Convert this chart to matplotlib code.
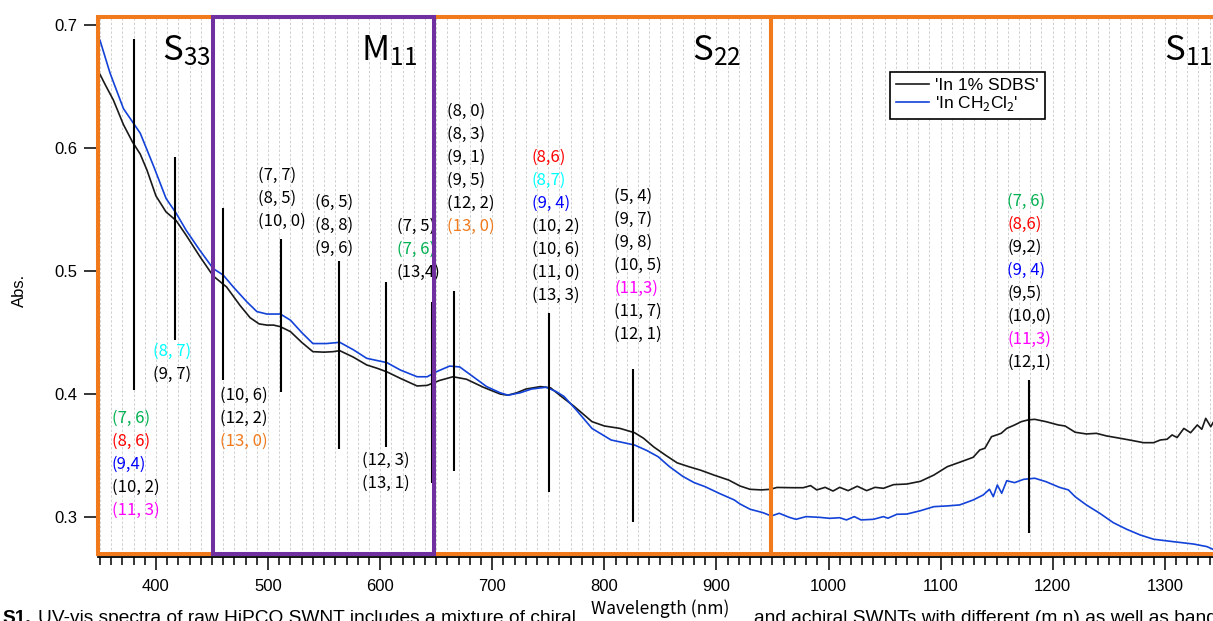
import matplotlib
matplotlib.use('Agg')
import matplotlib.pyplot as plt
from matplotlib.patches import Rectangle

# UV-vis absorbance of HiPCO SWNTs in two media
wl_sdbs = [348.3, 350, 355, 362, 371, 379, 386, 392, 400, 409, 418, 427, 439, 451, 463, 475,
           484, 492, 499, 505, 511, 520, 530, 540, 550, 558, 564, 576, 588, 597, 606, 618,
           633, 642, 653, 665, 677, 692, 707, 714, 722, 730, 743, 752, 763, 773, 789, 800,
           814, 827, 835, 844, 855, 865, 875, 886, 898, 911, 921, 930, 940, 948, 954, 968.5,
           977.5, 984, 989.5, 997, 1004, 1010, 1017.5, 1025.6, 1034, 1041.5, 1049, 1058, 1070,
           1082, 1094, 1106, 1118.5, 1129, 1135, 1139.5, 1145.4, 1150, 1154, 1159, 1166, 1172,
           1178, 1184, 1194, 1205, 1211, 1220, 1230, 1239, 1248, 1260, 1272, 1281, 1290, 1296,
           1302, 1306.5, 1311, 1317, 1323, 1329, 1333, 1336.5, 1341, 1343]
abs_sdbs = [0.661, 0.660, 0.651, 0.639, 0.619, 0.605, 0.595, 0.582, 0.561, 0.548, 0.541, 0.529,
            0.512, 0.496, 0.487, 0.472, 0.462, 0.457, 0.456, 0.456, 0.4547, 0.4507, 0.442,
            0.4344, 0.434, 0.4344, 0.4352, 0.430, 0.4236, 0.421, 0.418, 0.4127, 0.4065, 0.407,
            0.411, 0.414, 0.412, 0.4055, 0.400, 0.399, 0.401, 0.404, 0.406, 0.405, 0.397, 0.390,
            0.3775, 0.374, 0.372, 0.3685, 0.364, 0.357, 0.350, 0.344, 0.341, 0.338, 0.334, 0.330,
            0.3252, 0.3225, 0.322, 0.3225, 0.324, 0.3238, 0.3238, 0.3255, 0.322, 0.3241, 0.3211,
            0.3241, 0.3214, 0.325, 0.3214, 0.3241, 0.3233, 0.3263, 0.3268, 0.329, 0.3341, 0.3409,
            0.345, 0.3485, 0.3545, 0.3559, 0.3653, 0.3667, 0.368, 0.372, 0.3748, 0.3775, 0.3789,
            0.3794, 0.3775, 0.3748, 0.374, 0.3689, 0.3675, 0.368, 0.3659, 0.364, 0.362, 0.3604,
            0.3604, 0.3626, 0.3632, 0.3667, 0.3646, 0.372, 0.3685, 0.3748, 0.3713, 0.3802,
            0.3734, 0.3767]

wl_dcm = [348.3, 350, 359, 371, 380, 386, 398, 409, 418, 427, 439, 451, 460, 469, 481, 490,
          499, 511, 520, 530, 540, 552, 564, 576, 588, 606, 618, 633, 642, 650, 662, 671, 683,
          695, 707, 714, 725, 735, 748, 757, 764, 775, 789, 806, 827, 838, 848, 858, 870, 880,
          890, 903, 916, 921, 930, 941.5, 949, 956, 965, 971, 980, 992, 1001, 1010, 1016, 1023,
          1029, 1040, 1049, 1053, 1061, 1070, 1082, 1094, 1106, 1117, 1129, 1138, 1143.6, 1147,
          1150.6, 1154.5, 1159, 1166, 1174, 1184, 1194, 1206, 1214, 1220, 1230, 1242, 1254,
          1266, 1278, 1290, 1307.8, 1325.7, 1337.6, 1343]
abs_dcm = [0.689, 0.6878, 0.661, 0.632, 0.620, 0.612, 0.585, 0.559, 0.547, 0.533, 0.517,
           0.502, 0.4967, 0.487, 0.475, 0.467, 0.465, 0.465, 0.460, 0.450, 0.441, 0.441, 0.442,
           0.436, 0.429, 0.4255, 0.4195, 0.414, 0.414, 0.418, 0.4227, 0.422, 0.414, 0.406, 0.401,
           0.399, 0.401, 0.404, 0.4055, 0.402, 0.398, 0.387, 0.372, 0.3626, 0.3585, 0.354, 0.349,
           0.341, 0.333, 0.328, 0.3246, 0.319, 0.3138, 0.3106, 0.3063, 0.3035, 0.3008, 0.303,
           0.2997, 0.2981, 0.3003, 0.2997, 0.2989, 0.2994, 0.2976, 0.3003, 0.2976, 0.2981,
           0.3003, 0.2990, 0.3022, 0.3024, 0.3051, 0.3084, 0.309, 0.3098, 0.3138, 0.3179, 0.3225,
           0.3165, 0.326, 0.3193, 0.3295, 0.3279, 0.3306, 0.3315, 0.3287, 0.3241, 0.322, 0.3165,
           0.3098, 0.303, 0.2954, 0.29, 0.2854, 0.2819, 0.2799, 0.278, 0.2759, 0.2737]

# transition markers (nm) and their vertical extent
marker_nm = [380, 417, 460, 512, 563, 605, 646, 666, 751, 826, 1179]
marker_lo = [0.403, 0.444, 0.411, 0.402, 0.355, 0.357, 0.328, 0.337, 0.320, 0.296, 0.287]
marker_hi = [0.689, 0.593, 0.551, 0.526, 0.508, 0.491, 0.475, 0.484, 0.466, 0.420, 0.411]

# (n, m) assignments for each marker group
label_groups = [
    ['(7, 6)', '(8, 6)', '(9,4)', '(10, 2)', '(11, 3)'],
    ['(8, 7)', '(9, 7)'],
    ['(10, 6)', '(12, 2)', '(13, 0)'],
    ['(7, 7)', '(8, 5)', '(10, 0)'],
    ['(6, 5)', '(8, 8)', '(9, 6)'],
    ['(12, 3)', '(13, 1)'],
    ['(7, 5)', '(7, 6)', '(13,4)'],
    ['(8, 0)', '(8, 3)', '(9, 1)', '(9, 5)', '(12, 2)', '(13, 0)'],
    ['(8,6)', '(8,7)', '(9, 4)', '(10, 2)', '(10, 6)', '(11, 0)', '(13, 3)'],
    ['(5, 4)', '(9, 7)', '(9, 8)', '(10, 5)', '(11,3)', '(11, 7)', '(12, 1)'],
    ['(7, 6)', '(8,6)', '(9,2)', '(9, 4)', '(9,5)', '(10,0)', '(11,3)', '(12,1)'],
]

# transition bands
band_names = ['S$_{\\mathrm{33}}$', 'M$_{\\mathrm{11}}$', 'S$_{\\mathrm{22}}$', 'S$_{\\mathrm{11}}$']

# ---- layout ----
group_xy = [(360.7, 0.3805), (397.0, 0.4344), (457.0, 0.3992), (491.3, 0.578),
            (542.2, 0.5556), (583.5, 0.3458), (614.7, 0.536), (659.3, 0.6295),
            (735.1, 0.5924), (808.8, 0.5604), (1159.5, 0.5563)]
band_xy = [(405.0, 0.6715), (582.5, 0.6715), (878.0, 0.6715), (1299.0, 0.6715)]
line_step = 16.56  # points between stacked labels

orange = '#F07A1C'
purple = '#7030A0'
highlight = {'(7,6)': '#00B050', '(8,6)': '#FF0000', '(9,4)': '#0000FF',
             '(8,7)': '#00FFFF', '(11,3)': '#FF00FF', '(13,0)': orange}

cjk = ['Noto Sans CJK JP', 'DejaVu Sans']
plt.rcParams['font.family'] = ['Liberation Sans', 'DejaVu Sans']
plt.rcParams['mathtext.fontset'] = 'custom'
plt.rcParams['mathtext.rm'] = 'Noto Sans CJK JP'
plt.rcParams['mathtext.it'] = 'Noto Sans CJK JP'

fig = plt.figure(figsize=(12.13, 6.21), dpi=100)
ax = fig.add_axes([98 / 1213, 67 / 621, 1115 / 1213, 537 / 621])
xmin, xmax = 348.3, 1343.0
ymin, ymax = 0.2699, 0.7065
ax.set_xlim(xmin, xmax)
ax.set_ylim(ymin, ymax)

# light dashed grid every 10 nm
ax.set_xticks(range(400, 1301, 100))
ax.set_xticks(range(350, 1341, 10), minor=True)
ax.set_yticks([0.3, 0.4, 0.5, 0.6, 0.7])
ax.grid(axis='x', which='both', color='#cfcfcf', lw=0.7, ls=(0, (2.5, 2)))
ax.set_axisbelow(True)

for s in ['top', 'right', 'left']:
    ax.spines[s].set_visible(False)
ax.spines['bottom'].set_position(('outward', 2))
ax.spines['bottom'].set_linewidth(1.3)
ax.tick_params(axis='x', which='major', length=9.7, width=1.1, pad=6.5, labelsize=12)
ax.tick_params(axis='x', which='minor', length=6, width=1.1)
ax.tick_params(axis='y', length=10, width=1.1, pad=5, labelsize=12)

ax.plot(wl_sdbs, abs_sdbs, color='#1a1a1a', lw=1.2, label="'In 1% SDBS'")
ax.plot(wl_dcm, abs_dcm, color='#1242d8', lw=1.2, label="'In CH$_2$Cl$_2$'")

ax.vlines(marker_nm, marker_lo, marker_hi, colors='black', lw=1.5, zorder=3)

# band boxes
ax.add_patch(Rectangle((xmin, ymin), 948.5 - xmin, ymax - ymin, fill=False,
                       ec=orange, lw=2.9, clip_on=False, zorder=4))
ax.add_patch(Rectangle((948.5, ymin), 600, ymax - ymin, fill=False,
                       ec=orange, lw=2.9, clip_on=False, zorder=4))
ax.add_patch(Rectangle((451.1, ymin), 648.3 - 451.1, ymax - ymin, fill=False,
                       ec=purple, lw=2.9, clip_on=False, zorder=5))

for name, (bx, by) in zip(band_names, band_xy):
    ax.text(bx, by, name, fontsize=25, family=cjk, ha='left', va='baseline')

for labels, (gx, gy) in zip(label_groups, group_xy):
    for i, lab in enumerate(labels):
        col = highlight.get(lab.replace(' ', ''), 'black')
        ax.annotate(lab, xy=(gx, gy), xytext=(0, -i * line_step), textcoords='offset points',
                    ha='left', va='center', fontsize=12, family=cjk, color=col)

leg = ax.legend(loc='upper left', bbox_to_anchor=(0.7103, 0.8976), borderaxespad=0,
                fontsize=12.5, frameon=True, fancybox=False, framealpha=1,
                edgecolor='black', handlelength=1.9, handletextpad=0.35,
                labelspacing=0.05, borderpad=0.35)
leg.get_frame().set_linewidth(1.2)

ax.set_xlabel('Wavelength (nm)', fontsize=12.5, family=cjk, va='center')
ax.xaxis.set_label_coords(0.504, -0.102)
ax.set_ylabel('Abs.', fontsize=12, va='center')
ax.yaxis.set_label_coords(-0.070, 0.4916)

# caption running along the bottom edge
cap_y = -2 / 621
fig.text(2 / 1213, cap_y, 'S1.', fontsize=13.8, weight='bold', va='baseline')
fig.text(37.5 / 1213, cap_y, 'UV-vis spectra of raw HiPCO SWNT includes a mixture of chiral',
         fontsize=13.8, va='baseline')
fig.text(754 / 1213, cap_y, 'and achiral SWNTs with different (m,n) as well as bands',
         fontsize=13.8, va='baseline')

fig.savefig('out.png', dpi=100)
